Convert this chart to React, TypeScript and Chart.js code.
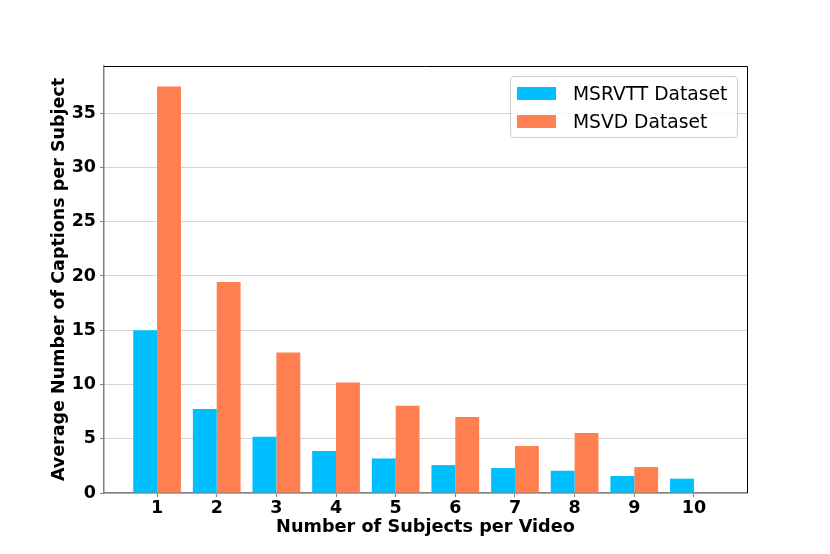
import { useEffect, useRef } from "react";
import { Chart, registerables } from "chart.js";

Chart.register(...registerables);

// ── Data ───────────────────────────────────────────────────────────────────
const SUBJECTS = [1, 2, 3, 4, 5, 6, 7, 8, 9, 10];
const MSRVTT = [15.0, 7.75, 5.18, 3.87, 3.18, 2.57, 2.3, 2.05, 1.57, 1.32];
const MSVD = [37.45, 19.45, 12.95, 10.18, 8.04, 7.0, 4.33, 5.52, 2.39, 0];
const SERIES_LABELS = ["MSRVTT Dataset", "MSVD Dataset"];
const COLORS = ["#00BFFF", "#FF7F50"];

const FONT = "'DejaVu Sans', Verdana, sans-serif";

// draws the black top and right spines
const framePlugin = {
  id: "frame",
  afterDraw(chart: Chart) {
    const { ctx, chartArea: a } = chart;
    ctx.save();
    ctx.strokeStyle = "#000";
    ctx.lineWidth = 1;
    ctx.beginPath();
    ctx.moveTo(a.left, a.top + 0.5);
    ctx.lineTo(a.right + 0.5, a.top + 0.5);
    ctx.lineTo(a.right + 0.5, a.bottom);
    ctx.stroke();
    ctx.restore();
  },
};

export default function App() {
  const canvasRef = useRef<HTMLCanvasElement>(null);

  useEffect(() => {
    if (!canvasRef.current) return;
    const chart = new Chart(canvasRef.current, {
      type: "bar",
      data: {
        datasets: [MSRVTT, MSVD].map((vals, i) => ({
          label: SERIES_LABELS[i],
          data: SUBJECTS.map((s, j) => ({ x: s, y: vals[j] })),
          backgroundColor: COLORS[i],
          borderWidth: 0,
          barPercentage: 1,
          categoryPercentage: 0.8,
        })),
      },
      options: {
        responsive: false,
        animation: false,
        layout: { padding: { left: 49, top: 66, right: 83, bottom: 0 } },
        plugins: {
          legend: { display: false },
          tooltip: { enabled: false },
        },
        scales: {
          x: {
            type: "linear",
            offset: false,
            min: 0.11,
            max: 10.89,
            afterFit: (s: any) => { s.height = 61; },
            grid: { offset: false, drawOnChartArea: false, tickLength: 4, tickColor: "#808080" },
            border: { color: "#808080", width: 1.5 },
            ticks: {
              stepSize: 1,
              includeBounds: false,
              autoSkip: false,
              maxRotation: 0,
              padding: 1,
              color: "#000",
              font: { family: FONT, size: 17.5, weight: "bold" },
            },
            title: {
              display: true,
              text: "Number of Subjects per Video",
              color: "#000",
              padding: { top: 0, bottom: 16 },
              font: { family: FONT, size: 17.7, weight: "bold" },
            },
          },
          y: {
            min: 0,
            max: 39.35,
            afterFit: (s: any) => { s.width = 55; },
            grid: { color: "#d6d6d6", tickLength: 4, tickColor: "#808080" },
            border: { color: "#808080", width: 1.5 },
            ticks: {
              stepSize: 5,
              includeBounds: false,
              padding: 4,
              color: "#000",
              font: { family: FONT, size: 17.5, weight: "bold" },
            },
            title: {
              display: true,
              text: "Average Number of Captions per Subject",
              color: "#000",
              padding: 0,
              font: { family: FONT, size: 17.5, weight: "bold" },
            },
          },
        },
      },
      plugins: [framePlugin],
    });
    return () => { chart.destroy(); };
  }, []);

  return (
    <div style={{ position: "absolute", left: 0, top: 0, width: 830, height: 554, background: "#fff" }}>
      <canvas ref={canvasRef} width={830} height={554} style={{ display: "block" }} />

      {/* Legend */}
      <div style={{
        position: "absolute",
        left: 510,
        top: 76,
        width: 226,
        height: 60,
        border: "1px solid #cccccc",
        borderRadius: 4,
        background: "rgba(255,255,255,0.8)",
        fontFamily: FONT,
        fontSize: 18.7,
        color: "#000",
      }}>
        {SERIES_LABELS.map((label, i) => (
          <div key={label} style={{
            position: "absolute",
            left: 6,
            top: 5 + i * 28,
            height: 22,
            display: "flex",
            alignItems: "center",
            whiteSpace: "nowrap",
          }}>
            <span style={{ width: 39, height: 13, background: COLORS[i], display: "inline-block", marginRight: 17 }} />
            <span>{label}</span>
          </div>
        ))}
      </div>
    </div>
  );
}
